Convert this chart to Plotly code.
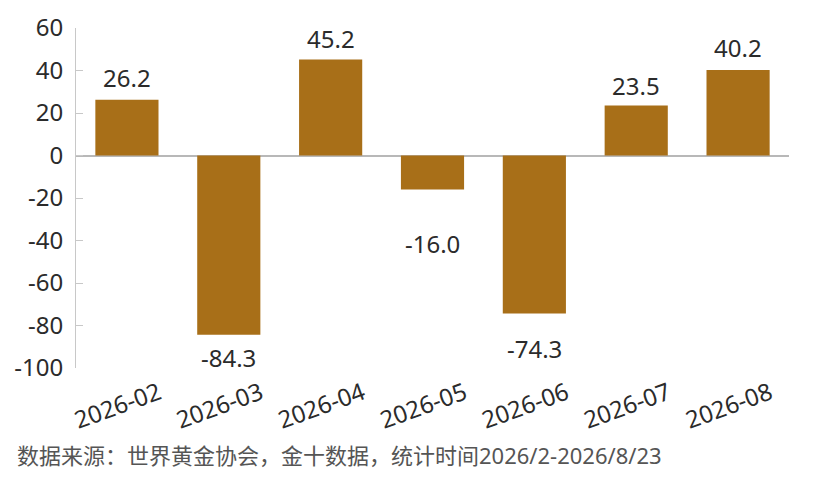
import plotly.graph_objects as go

months = ["2026-02", "2026-03", "2026-04", "2026-05", "2026-06", "2026-07", "2026-08"]
values = [26.2, -84.3, 45.2, -16.0, -74.3, 23.5, 40.2]
y_ticks = [60, 40, 20, 0, -20, -40, -60, -80, -100]
source_note = "数据来源：世界黄金协会，金十数据，统计时间2026/2-2026/8/23"

# label offsets from bar end, in pixels (style)
label_shift = [22, -23, 21, -54, -35, 20, 23]

FONT = "Noto Sans, Noto Sans CJK SC, sans-serif"
TXT = "#2b2b2b"

fig = go.Figure(go.Bar(
    x=months,
    y=values,
    marker=dict(color="#A86F18", line=dict(width=0)),
    hoverinfo="x+y",
))

annotations = [
    dict(x=m, y=v, xref="x", yref="y", text=f"{v:.1f}", showarrow=False,
         xanchor="center", yanchor="middle", yshift=s,
         font=dict(family=FONT, size=24, color=TXT))
    for m, v, s in zip(months, values, label_shift)
]
annotations.append(dict(
    text=source_note, xref="paper", yref="paper",
    x=-61/713, y=-87/340, xanchor="left", yanchor="middle",
    showarrow=False, font=dict(family=FONT, size=22, color="#555555"),
))

fig.update_layout(
    width=822, height=479,
    margin=dict(l=68, r=41, t=20, b=119),
    paper_bgcolor="white", plot_bgcolor="white",
    bargap=0.38,
    showlegend=False,
    font=dict(family=FONT, color=TXT),
    xaxis=dict(
        type="category",
        tickangle=-20,
        tickfont=dict(size=24, color=TXT),
        ticklabelshift=32,
        ticklabelstandoff=6,
        showgrid=False, showline=False, ticks="",
        zeroline=False, automargin=False,
    ),
    yaxis=dict(
        range=[-100, 60],
        tickvals=y_ticks,
        ticktext=[str(t) for t in y_ticks],
        tickfont=dict(size=24, color=TXT),
        ticklabelstandoff=7,
        showgrid=False,
        showline=True, linecolor="#c8c8c8", linewidth=1,
        ticks="inside", ticklen=7, tickcolor="#c8c8c8",
        zeroline=True, zerolinecolor="#b8b8b8", zerolinewidth=1.5,
        automargin=False,
    ),
    annotations=annotations,
)

fig.write_html("out.html")
